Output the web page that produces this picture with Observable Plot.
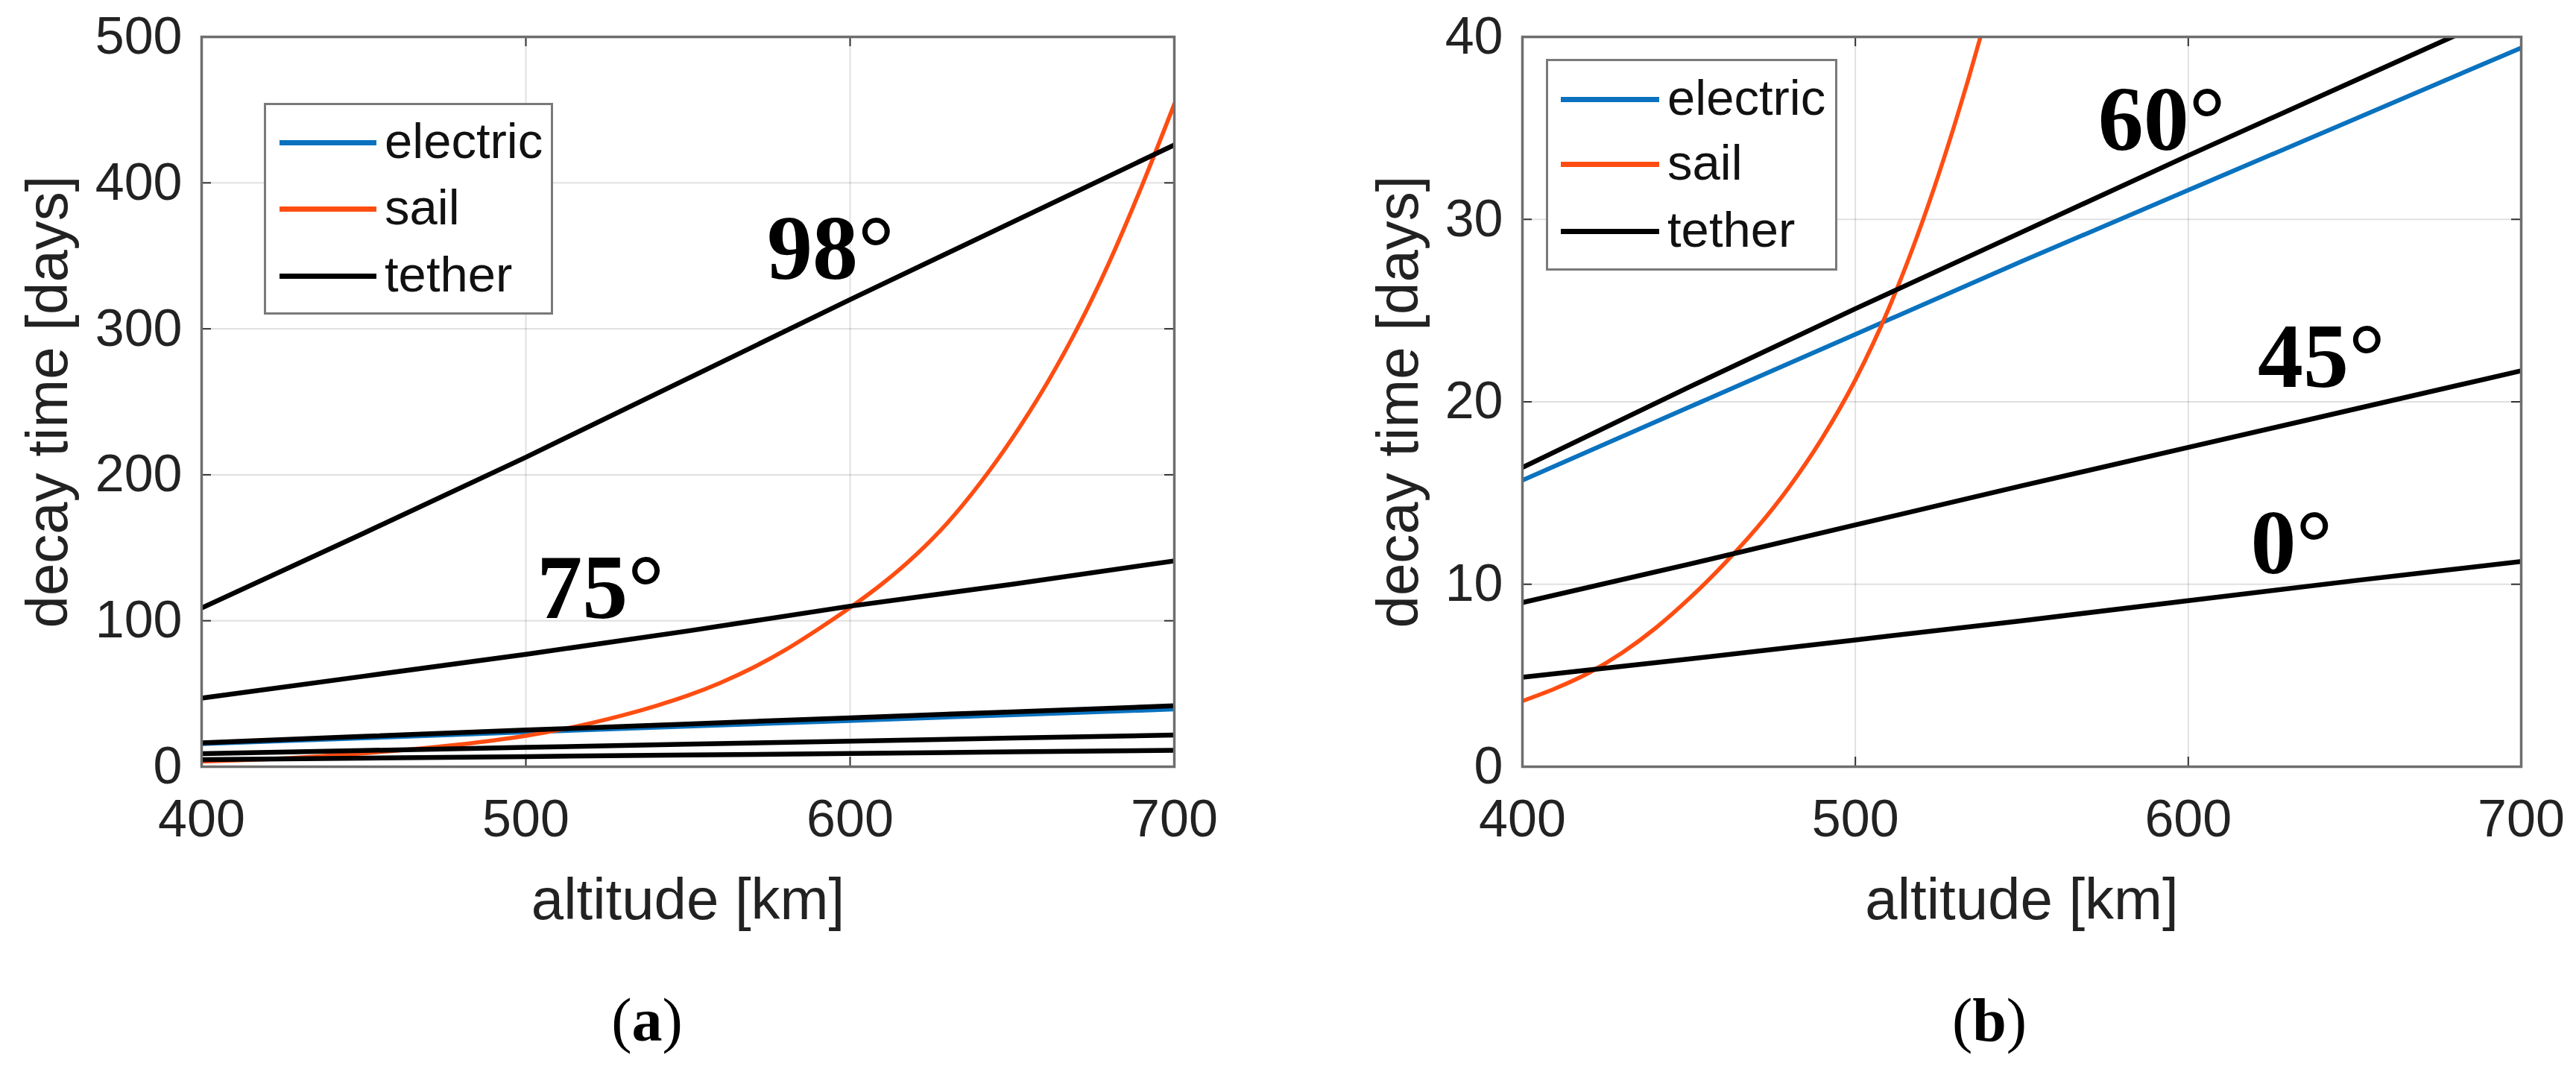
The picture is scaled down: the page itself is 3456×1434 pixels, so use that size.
<!DOCTYPE html>
<html>
<head>
<meta charset="utf-8">
<script src="https://cdn.jsdelivr.net/npm/d3@7"></script>
<script src="https://cdn.jsdelivr.net/npm/@observablehq/plot@0.6"></script>
<style>
  body { margin: 0; background: #fff; }
  #page { position: relative; width: 3456px; height: 1434px; overflow: hidden; background: #fff; }
  .panel { position: absolute; top: 0; }
  .panel svg { overflow: visible; }
  .legend { position: absolute; box-sizing: border-box; border: 3px solid #7a7a7a; background: #fff; }
  .legend .row { position: absolute; left: 0; height: 0; }
  .legend .swatch { position: absolute; height: 7px; top: -3.5px; }
  .legend .name { position: absolute; font: 67px "Liberation Sans", Arial, sans-serif; color: #111; line-height: 1; top: -36px; white-space: nowrap; }
  .caption { position: absolute; top: 1322px; font: 82px "Liberation Serif", "Times New Roman", serif; color: #000; transform: translateX(-50%); }
</style>
</head>
<body>
<div id="page">
  <div class="panel" id="chart_a" style="left:0"></div>
  <div class="panel" id="chart_b" style="left:1728px"></div>
  <div class="caption" style="left:868px">(<b>a</b>)</div>
  <div class="caption" style="left:2669px">(<b>b</b>)</div>
</div>
<script>
// values (altitude in km, decay time in days)
const altitude = [400, 450, 500, 550, 600, 650, 700]
const electric = [15.7, 19.7, 23.7, 27.7, 31.6, 35.5, 39.4]
const tether98 = [108.7, 160, 212, 266, 320, 373, 426]
const tether75 = [47, 62, 77, 93, 110, 125, 141]
const tether60 = [16.4, 20.8, 25.1, 29.3, 33.5, 37.6, 41.7]
const tether45 = [9.0, 11.1, 13.25, 15.4, 17.5, 19.6, 21.7]
const tether0 = [4.9, 5.9, 6.95, 8.0, 9.1, 10.2, 11.25]
const tetherAngles = ["98°", "75°", "60°", "45°", "0°"]

const sailAltitude = [400, 410, 420, 430, 440, 450, 460, 470, 480, 490, 500, 510, 520, 530, 540, 550,
  560, 570, 580, 590, 600, 610, 620, 630, 640, 650, 660, 670, 680, 690, 700]
const sail = [3.6, 4.3, 5.15, 6.25, 7.6, 9.2, 11.0, 13.0, 15.3, 18.0, 21.2, 25.1, 29.8, 35.3, 41.6, 48.8,
  57.5, 67.8, 80, 94, 109, 125.5, 144.5, 167, 194, 225, 260, 300, 346, 398, 454]

const xTicks = [400, 500, 600, 700]
const yTicksA = [0, 100, 200, 300, 400, 500]
const yTicksB = [0, 10, 20, 30, 40]

const legendNames = ["electric", "sail", "tether"]
const colors = {electric: "#0a72be", sail: "#ff4d12", tether: "#000"}

// angle labels, placed in data units
const labelsA = [{text: "98°", altitude: 594, days: 354}, {text: "75°", altitude: 523, days: 122}]
const labelsB = [{text: "60°", altitude: 592, days: 35.4}, {text: "45°", altitude: 640, days: 22.4}, {text: "0°", altitude: 631, days: 12.2}]

// tidy rows
const tetherSeries = [tether98, tether75, tether60, tether45, tether0]
const tetherRows = tetherAngles.flatMap((a, i) => altitude.map((x, j) => ({altitude: x, days: tetherSeries[i][j], angle: a})))
const electricRows = altitude.map((x, j) => ({altitude: x, days: electric[j]}))
const sailRows = sailAltitude.map((x, j) => ({altitude: x, days: sail[j]}))

function panel({yDomain, yTicks, marginLeft, marginRight, ylabelDx, labels}) {
  const width = 1728, height = 1290, marginTop = 49, marginBottom = 262
  const innerW = width - marginLeft - marginRight
  const innerH = height - marginTop - marginBottom
  const tickLen = 13
  return Plot.plot({
    width, height, marginTop, marginBottom, marginLeft, marginRight,
    style: {fontFamily: "Liberation Sans, Arial, sans-serif", fontSize: "70px", color: "#222", background: "transparent"},
    x: {domain: [400, 700]},
    y: {domain: yDomain},
    marks: [
      Plot.gridX(xTicks, {stroke: "#000", strokeOpacity: 0.12, strokeWidth: 2}),
      Plot.gridY(yTicks, {stroke: "#000", strokeOpacity: 0.12, strokeWidth: 2}),
      // inward ticks on all four sides
      Plot.tickY(yTicks, {y: d => d, insetRight: innerW - tickLen, stroke: "#333", strokeWidth: 2}),
      Plot.tickY(yTicks, {y: d => d, insetLeft: innerW - tickLen, stroke: "#333", strokeWidth: 2}),
      Plot.tickX(xTicks, {x: d => d, insetTop: innerH - tickLen, stroke: "#333", strokeWidth: 2}),
      Plot.tickX(xTicks, {x: d => d, insetBottom: innerH - tickLen, stroke: "#333", strokeWidth: 2}),
      Plot.axisX(xTicks, {tickSize: 0, tickPadding: 44, fontSize: 70, label: null}),
      Plot.axisY(yTicks, {tickSize: 0, tickPadding: 26, fontSize: 70, label: null}),
      Plot.line(electricRows, {x: "altitude", y: "days", stroke: colors.electric, strokeWidth: 6, clip: true}),
      Plot.line(sailRows, {x: "altitude", y: "days", stroke: colors.sail, strokeWidth: 5.5, curve: "monotone-x", clip: true}),
      Plot.line(tetherRows, {x: "altitude", y: "days", z: "angle", stroke: colors.tether, strokeWidth: 6.5, clip: true}),
      Plot.text(labels, {x: "altitude", y: "days", text: "text", fontFamily: "Liberation Serif, Times New Roman, serif",
        fontWeight: "bold", fontSize: 122, fill: "#000"}),
      Plot.text(["altitude [km]"], {text: d => d, frameAnchor: "bottom", textAnchor: "middle", lineAnchor: "middle",
        dy: 180, fontSize: 78, fill: "#222"}),
      Plot.text(["decay time [days]"], {text: d => d, frameAnchor: "left", textAnchor: "middle", lineAnchor: "middle",
        rotate: -90, dx: ylabelDx, fontSize: 78, fill: "#222"}),
      Plot.frame({stroke: "#6e6e6e", strokeWidth: 3.5})
    ]
  })
}

function legend(container, {left, top, width, height, sampleLeft, sampleWidth, textLeft, rows}) {
  const box = d3.select(container).append("div").attr("class", "legend")
    .style("left", left + "px").style("top", top + "px")
    .style("width", width + "px").style("height", height + "px")
  legendNames.forEach((name, i) => {
    const row = box.append("div").attr("class", "row").style("top", (rows[i] - top - 3) + "px")
    row.append("div").attr("class", "swatch")
      .style("left", (sampleLeft - left - 3) + "px").style("width", sampleWidth + "px")
      .style("background", colors[name])
    row.append("div").attr("class", "name").style("left", (textLeft - left - 3) + "px").text(name)
  })
}

const chartA = panel({yDomain: [0, 500], yTicks: yTicksA, marginLeft: 270, marginRight: 153, ylabelDx: -205, labels: labelsA})
const chartB = panel({yDomain: [0, 40], yTicks: yTicksB, marginLeft: 314, marginRight: 74, ylabelDx: -165, labels: labelsB})
d3.select('#chart_a').append(() => chartA)
d3.select('#chart_b').append(() => chartB)

legend('#page', {left: 354, top: 138, width: 388, height: 284, sampleLeft: 375, sampleWidth: 130, textLeft: 516, rows: [191, 280, 370]})
legend('#page', {left: 2074, top: 79, width: 391, height: 284, sampleLeft: 2094, sampleWidth: 132, textLeft: 2237, rows: [133, 220, 310]})
</script>
</body>
</html>
